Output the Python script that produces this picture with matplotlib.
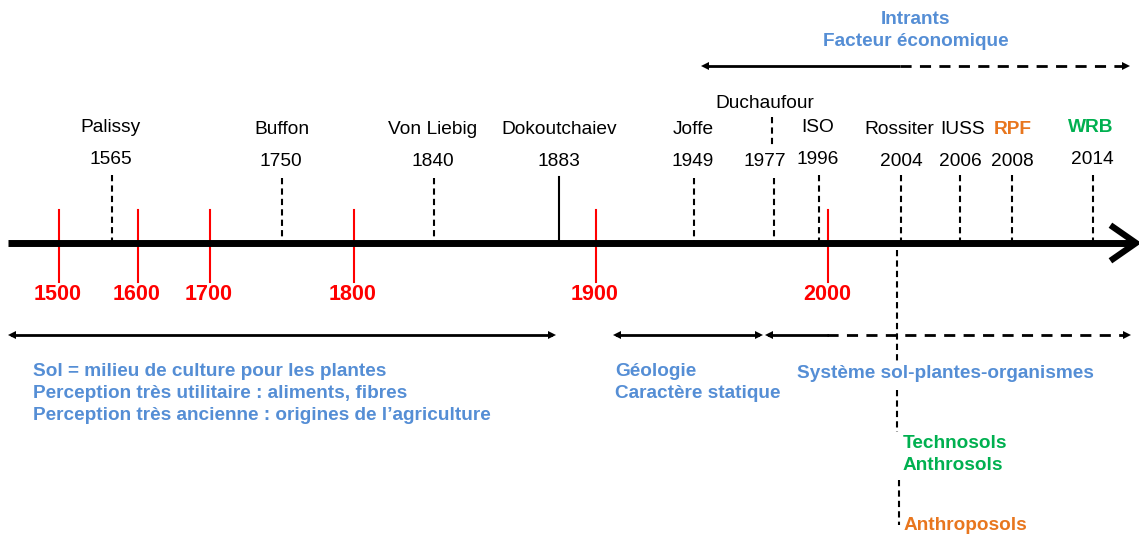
import matplotlib
matplotlib.use("Agg")
import matplotlib.pyplot as plt

plt.rcParams['font.family'] = ['Liberation Sans', 'DejaVu Sans']

# ---- data ----
centuries = ["1500", "1600", "1700", "1800", "1900", "2000"]
century_x = [59, 138, 210, 354, 596, 828]

event_years = ["1565", "1750", "1840", "1883", "1949", "1977", "1996", "2004", "2006", "2008", "2014"]
event_x = [112, 282, 434, 559, 694, 774, 819, 901, 960, 1012, 1093]
event_top = [175, 178, 178, 177, 178, 178, 175, 175, 175, 175, 175]
event_style = ["dash"] * 3 + ["solid"] + ["dash"] * 7
year_label_x = [111, 281, 433, 559, 693, 765, 818, 901, 960, 1012, 1092]
year_label_y = [157, 160, 160, 160, 160, 160, 157, 160, 160, 160, 157]

names = ["Palissy", "Buffon", "Von Liebig", "Dokoutchaiev", "Joffe", "Duchaufour", "ISO", "Rossiter", "IUSS", "RPF", "WRB"]
name_x = [111, 282, 433, 559, 693, 765, 818, 899, 963, 1013, 1091]
name_y = [126, 128, 128, 128, 128, 101, 126, 128, 128, 127, 126]
name_color = ["black"] * 9 + ["#E8761E", "#00B050"]
name_bold = [False] * 9 + [True, True]

BLUE = "#558ED5"
RED = "#FF0000"
GREEN = "#00B050"
ORANGE = "#E8761E"
DY = 2  # text baseline correction

fig = plt.figure(figsize=(11.39, 5.36), dpi=100)
ax = fig.add_axes([0, 0, 1, 1])
ax.set_xlim(0, 1139)
ax.set_ylim(536, 0)
ax.axis("off")

# main axis
AXY = 243
ax.plot([8, 1132], [AXY, AXY], color="black", lw=5, solid_capstyle="butt", zorder=3)
ax.plot([1113, 1136, 1113], [227, AXY, 259], color="black", lw=4.5, solid_joinstyle="miter", zorder=3)

# century ticks
for lab, x in zip(centuries, century_x):
    ax.plot([x, x], [210, 282], color=RED, lw=1.5, zorder=2)
    ax.text(x - 1, 292 + DY, lab, color=RED, fontsize=15.5, fontweight="bold", ha="center", va="center")

# event lines
for x, top, st in zip(event_x, event_top, event_style):
    if st == "solid":
        ax.plot([x, x], [top, AXY], color="black", lw=1.5, zorder=2)
    else:
        ax.plot([x, x], [top, AXY], color="black", lw=1.5, dashes=(3, 2), zorder=2)
for lab, x, y in zip(event_years, year_label_x, year_label_y):
    ax.text(x, y + DY, lab, fontsize=13.8, ha="center", va="center")
for lab, x, y, c, b in zip(names, name_x, name_y, name_color, name_bold):
    ax.text(x, y + DY, lab, fontsize=13.8, ha="center", va="center", color=c,
            fontweight="bold" if b else "normal")
# Duchaufour small dashed
ax.plot([772, 772], [117, 146], color="black", lw=1.5, dashes=(3, 2))

def head(x, y, direction):
    ax.plot([x], [y], marker=">" if direction > 0 else "<", color="black", markersize=6,
            markeredgewidth=0, zorder=4)

# top arrow
ax.plot([705, 900], [66, 66], color="black", lw=2, solid_capstyle="butt")
ax.plot([900, 1125], [66, 66], color="black", lw=2, dashes=(4, 3))
head(705, 66, -1)
head(1126, 66, 1)
fs = 13.7
ax.text(916, 18 + DY, "Intrants", color=BLUE, fontsize=fs, fontweight="bold", ha="center", va="center")
ax.text(916, 40 + DY, "Facteur économique", color=BLUE, fontsize=fs, fontweight="bold", ha="center", va="center")

# bottom arrows
BY = 335
ax.plot([12, 551], [BY, BY], color="black", lw=2)
head(12, BY, -1); head(552, BY, 1)
ax.plot([617, 758], [BY, BY], color="black", lw=2)
head(617, BY, -1); head(759, BY, 1)
ax.plot([769, 827], [BY, BY], color="black", lw=2)
ax.plot([827, 1126], [BY, BY], color="black", lw=2, dashes=(4, 3))
head(769, BY, -1); head(1127, BY, 1)

# vertical dashed line below axis
ax.plot([897, 897], [250, 364], color="black", lw=1.5, dashes=(3, 2), zorder=1)
ax.plot([897, 897], [390, 432], color="black", lw=1.5, dashes=(3, 2), zorder=1)
ax.plot([899, 899], [480, 525], color="black", lw=1.5, dashes=(3, 2), zorder=1)

ax.text(33, 369 + DY, "Sol = milieu de culture pour les plantes", color=BLUE, fontsize=fs, fontweight="bold", va="center")
ax.text(33, 391 + DY, "Perception très utilitaire : aliments, fibres", color=BLUE, fontsize=fs, fontweight="bold", va="center")
ax.text(33, 413 + DY, "Perception très ancienne : origines de l\u2019agriculture", color=BLUE, fontsize=fs, fontweight="bold", va="center")
ax.text(615, 369 + DY, "Géologie", color=BLUE, fontsize=fs, fontweight="bold", va="center")
ax.text(615, 391 + DY, "Caractère statique", color=BLUE, fontsize=fs, fontweight="bold", va="center")
ax.text(797, 371 + DY, "Système sol-plantes-organismes", color=BLUE, fontsize=fs, fontweight="bold", va="center",
        bbox=dict(facecolor="white", edgecolor="none", pad=1), zorder=3)
ax.text(903, 442 + DY, "Technosols", color=GREEN, fontsize=fs, fontweight="bold", va="center")
ax.text(903, 464 + DY, "Anthrosols", color=GREEN, fontsize=fs, fontweight="bold", va="center")
ax.text(904, 524 + DY, "Anthroposols", color=ORANGE, fontsize=fs, fontweight="bold", va="center")

fig.savefig("out.png", dpi=100)
